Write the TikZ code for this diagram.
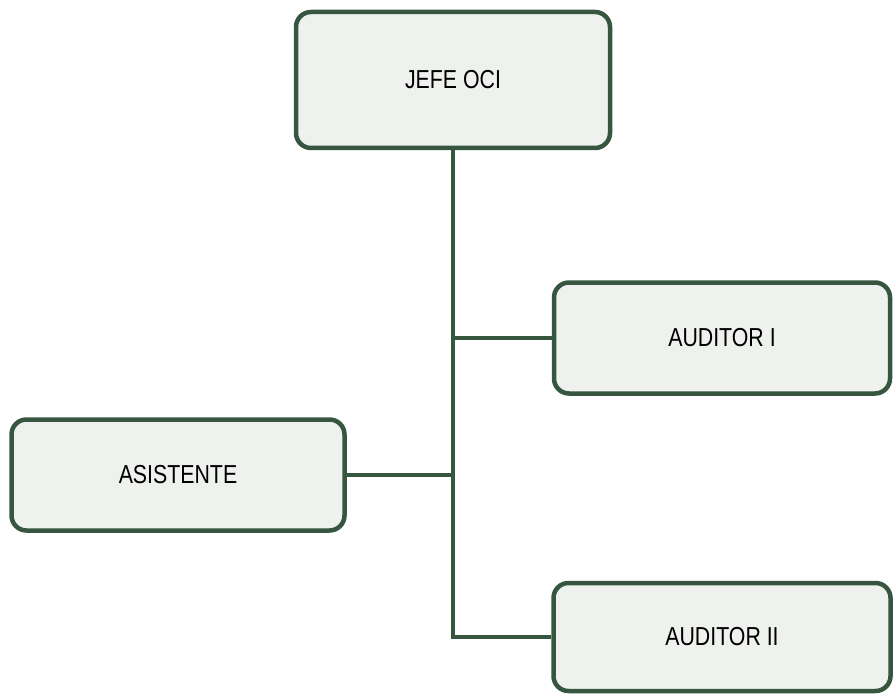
\documentclass[tikz,border=0pt]{standalone}
\usepackage{fontspec}
\setmainfont{Liberation Sans}
\newfontfamily\rotulo[FakeStretch=0.82]{Liberation Sans}
\usetikzlibrary{positioning}

\definecolor{verdeborde}{RGB}{55,86,63}
\definecolor{fondocaja}{RGB}{238,241,237}

\begin{document}
\begin{tikzpicture}[x=1pt,y=-1pt,
    cargo/.style={draw=verdeborde,line width=4.5pt,rounded corners=15pt,fill=fondocaja,
      font=\rotulo\fontsize{26}{30}\selectfont,inner sep=0pt},
    linea/.style={draw=verdeborde,line width=4pt}]
        \useasboundingbox (0,0) rectangle (893,695);
        \node[cargo,minimum width=314pt,minimum height=136pt] (jefe) at (453,80) {JEFE OCI};
        \node[cargo,minimum width=336pt,minimum height=111pt] (aud1) at (722,338) {AUDITOR I};
        \node[cargo,minimum width=333pt,minimum height=111pt] (asis) at (178,475) {ASISTENTE};
        \node[cargo,minimum width=337pt,minimum height=108pt] (aud2) at (722,637) {AUDITOR II};
        \draw[linea] (jefe.south) |- (aud2.west);
        \draw[linea] (jefe.south |- aud1.west) -- (aud1.west);\draw[linea] (asis.east) -- (asis.east -| jefe.south);
      \end{tikzpicture}
\end{document}
